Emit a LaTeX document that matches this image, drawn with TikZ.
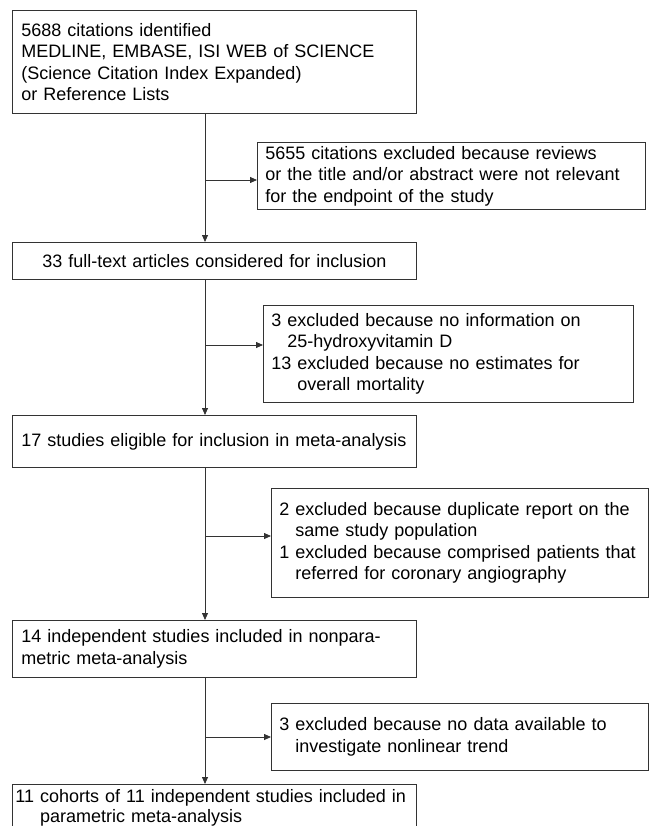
\documentclass[tikz,border=0pt]{standalone}
\usepackage{fontspec}
\setmainfont{Liberation Sans}
\usetikzlibrary{arrows.meta}
\newcommand{\indentas}[1]{\hphantom{#1\ }}

\begin{document}
\begin{tikzpicture}[x=1pt, y=-1pt, >={Stealth[length=7pt, width=6pt, inset=0pt]},
    font=\fontsize{18pt}{21.5pt}\selectfont, line width=0.8pt]

    % Define the styles for the nodes
    \tikzstyle{record} = [draw=black!80, anchor=north west, align=left, minimum width=404pt, text width=386pt, inner xsep=9pt, inner ysep=0pt]
    \tikzstyle{excluded} = [draw=black!80, anchor=north west, align=left, inner xsep=8pt, inner ysep=0pt]
    \tikzstyle{flow} = [draw=black!80, ->]

    \useasboundingbox (0,0) rectangle (653,826);

    % Nodes
    \node (identified) [record, minimum height=103pt] at (12,10) {5688 citations identified\\MEDLINE, EMBASE, ISI WEB of SCIENCE\\(Science Citation Index Expanded)\\or Reference Lists};
    \node (screened) [excluded, text width=372pt, minimum height=67pt] at (257,142) {5655 citations excluded because reviews\\or the title and/or abstract were not relevant\\for the endpoint of the study};
    \node (fulltext) [record, align=center, minimum height=37pt] at (12,242) {33 full-text articles considered for inclusion};
    \node (noinfo) [excluded, text width=354pt, minimum height=97pt] at (263,305) {3 excluded because no information on\\\indentas{3}25-hydroxyvitamin D\\13 excluded because no estimates for\\\indentas{13}overall mortality};
    \node (eligible) [record, minimum height=52pt] at (12,415) {17 studies eligible for inclusion in meta-analysis};
    \node (duplicate) [excluded, text width=361pt, minimum height=109pt] at (271,488) {2 excluded because duplicate report on the\\\indentas{2}same study population\\1 excluded because comprised patients that\\\indentas{1}referred for coronary angiography};
    \node (nonparam) [record, minimum height=57pt] at (12,620) {14 independent studies included in nonpara-\\metric meta-analysis};
    \node (nodata) [excluded, text width=361pt, minimum height=67pt] at (271,703) {3 excluded because no data available to\\\indentas{3}investigate nonlinear trend};
    \node (param) [record, text width=398pt, inner xsep=3pt, minimum height=46pt, font=\fontsize{18pt}{20pt}\selectfont] at (12,784) {11 cohorts of 11 independent studies included in\\\indentas{11}parametric meta-analysis};

    % Spine of the chart and the points where it splits
    \coordinate (spine) at (205,0);
    \coordinate (split1) at (205,180);
    \coordinate (split2) at (205,345);
    \coordinate (split3) at (205,536);
    \coordinate (split4) at (205,737);

    % Arrows
    \draw[flow] (spine |- identified.south) -- (spine |- fulltext.north);
    \draw[flow] (spine |- fulltext.south) -- (spine |- eligible.north);
    \draw[flow] (spine |- eligible.south) -- (spine |- nonparam.north);
    \draw[flow] (spine |- nonparam.south) -- (spine |- param.north);
    \draw[flow] (split1) -- (split1 -| screened.west);
    \draw[flow] (split2) -- (split2 -| noinfo.west);
    \draw[flow] (split3) -- (split3 -| duplicate.west);
    \draw[flow] (split4) -- (split4 -| nodata.west);

\end{tikzpicture}
\end{document}
